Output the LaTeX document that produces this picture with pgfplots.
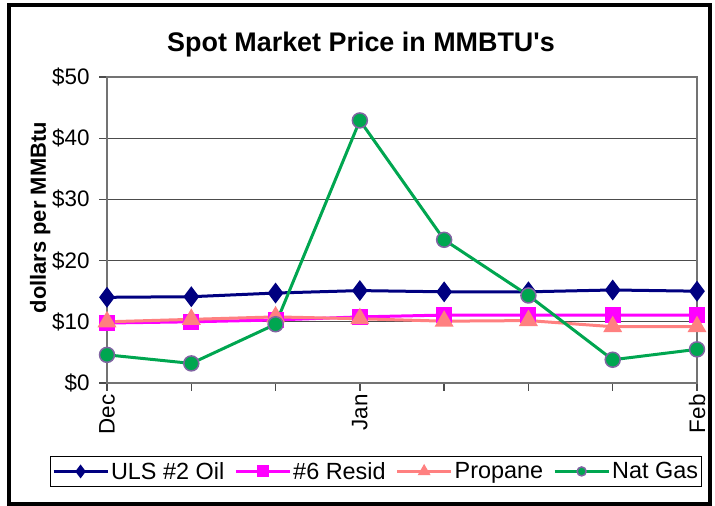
\documentclass[border=0pt]{standalone}
\usepackage{fontspec}
\setmainfont{Liberation Sans}
\usepackage{pgfplots}
\pgfplotsset{compat=1.18}
\definecolor{uls}{HTML}{000080}
\definecolor{resid}{HTML}{FF00FF}
\definecolor{prop}{HTML}{FF8080}
\definecolor{gas}{HTML}{00A650}
\definecolor{gasedge}{HTML}{8064A2}
\begin{document}
\begin{tikzpicture}
\useasboundingbox (0bp,0bp) rectangle (715bp,506bp);
\draw[line width=3.5bp] (9bp,2bp) rectangle (710bp,501bp);
\node[font=\fontsize{27}{31}\selectfont\bfseries] at (361bp,461bp) {Spot Market Price in MMBTU\textquotesingle s};
\begin{axis}[
  at={(107bp,123bp)}, anchor=south west,
  scale only axis, width=590bp, height=306bp,
  xmin=0, xmax=7, ymin=0, ymax=50,
  axis line style={draw=black!55, line width=1.5bp},
  ymajorgrids, major grid style={draw=black!70, line width=1.3bp},
  tick pos=left, tick align=outside, major tick length=8bp,
  tick style={draw=black!70, line width=1.3bp},
  xtick={0,1,2,3,4,5,6,7},
  xticklabels={Dec,,,Jan,,,,Feb},
  xticklabel style={rotate=90, anchor=east},
  ytick={0,10,20,30,40,50},
  yticklabels={\$0,\$10,\$20,\$30,\$40,\$50},
  yticklabel style={xshift=-6bp},
  tick label style={font=\fontsize{22.5}{26}\selectfont},
  ylabel={dollars per MMBtu},
  ylabel style={font=\fontsize{22}{25}\selectfont\bfseries, at={(-0.113,0.54)}, anchor=center},
  legend columns=4,
  legend style={at={(0.456,-0.289)}, anchor=center, font=\fontsize{23.5}{27}\selectfont,
    draw=black, line width=1bp, inner xsep=1.5bp, inner ysep=4bp,
    /tikz/every even column/.append style={column sep=8bp}},
  legend image code/.code={\draw[mark repeat=2,mark phase=2,#1,mark size=4.5bp] plot coordinates {(0bp,0bp) (27bp,0bp) (54bp,0bp)};},
]
\addplot[color=uls, line width=3bp, mark=diamond*, mark size=8bp] coordinates {
(0,14.0) (1,14.1) (2,14.7) (3,15.1) (4,14.9) (5,14.9) (6,15.2) (7,15.0)};
\addlegendentry{ULS \#2 Oil}
\addplot[color=resid, line width=3bp, mark=square*, mark size=6.5bp] coordinates {
(0,9.8) (1,10.0) (2,10.3) (3,10.8) (4,11.1) (5,11.1) (6,11.1) (7,11.1)};
\addlegendentry{\#6 Resid}
\addplot[color=prop, line width=3bp, mark=triangle*, mark size=8bp] coordinates {
(0,10.0) (1,10.4) (2,10.8) (3,10.5) (4,10.1) (5,10.2) (6,9.2) (7,9.2)};
\addlegendentry{Propane}
\addplot[color=gas, line width=3bp, mark=*, mark size=7.5bp, mark options={fill=gas, draw=gasedge, line width=1.5bp}] coordinates {
(0,4.6) (1,3.2) (2,9.6) (3,42.9) (4,23.4) (5,14.3) (6,3.8) (7,5.5)};
\addlegendentry{Nat Gas}
\end{axis}
\end{tikzpicture}
\end{document}
